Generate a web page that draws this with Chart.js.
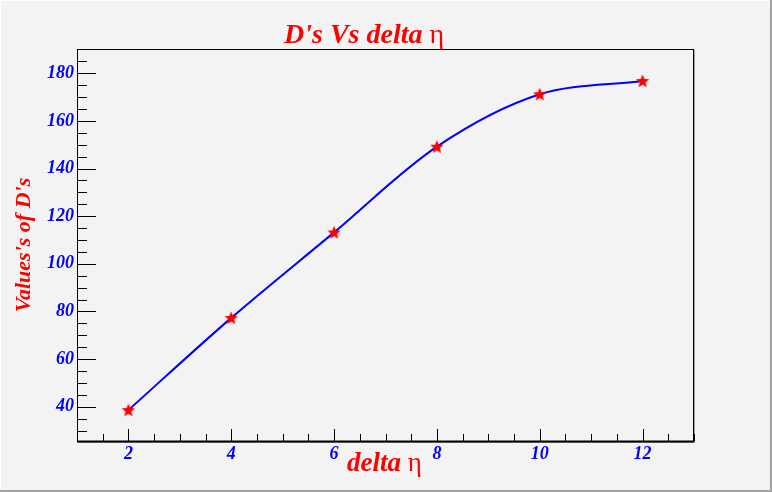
<!DOCTYPE html>
<html>
<head>
<meta charset="utf-8">
<script src="https://cdn.jsdelivr.net/npm/chart.js@4.4.1/dist/chart.umd.min.js"></script>
<style>
  html, body { margin: 0; padding: 0; background: #f3f3f3; }
  #wrap { position: relative; width: 772px; height: 492px; }
</style>
</head>
<body>
<div id="wrap"><canvas id="c" width="772" height="492"></canvas></div>
<script>
// ---- data ----
const deltaEta = [2, 4, 6, 8, 10, 12];
const dValues = [38.6, 77.3, 113.2, 149.2, 171.2, 176.8];
const xTickValues = [2, 4, 6, 8, 10, 12];
const yTickValues = [40, 60, 80, 100, 120, 140, 160, 180];
const xRange = [1, 13];
const yRange = [25.6, 190.2];
const titleMain = "D's Vs delta ";
const titleSym = "\u03b7";
const xTitleMain = "delta ";
const xTitleSym = "\u03b7";
const yTitle = "Values's of D's";

// red filled star marker
function makeStar(size, color) {
  const cv = document.createElement('canvas');
  cv.width = size; cv.height = size;
  const g = cv.getContext('2d');
  const cx = size / 2, cy = size / 2 + 0.5, ro = size / 2, ri = ro * 0.45;
  g.beginPath();
  for (let i = 0; i < 10; i++) {
    const r = i % 2 === 0 ? ro : ri;
    const a = -Math.PI / 2 + i * Math.PI / 5;
    const px = cx + r * Math.cos(a), py = cy + r * Math.sin(a);
    if (i === 0) g.moveTo(px, py); else g.lineTo(px, py);
  }
  g.closePath();
  g.fillStyle = color;
  g.fill();
  return cv;
}
const star = makeStar(14, '#ff0000');

const FRAME = { left: 77, right: 694, top: 49, bottom: 441 };
const W = 772, H = 492;

const bgPlugin = {
  id: 'bg',
  beforeDraw(chart) {
    const ctx = chart.ctx;
    ctx.save();
    ctx.fillStyle = '#f3f3f3';
    ctx.fillRect(0, 0, W, H);
    ctx.fillStyle = '#a0a0a0';
    ctx.fillRect(W - 2, 0, 2, H);
    ctx.fillRect(0, H - 2, W, 2);
    ctx.fillStyle = '#ffffff';
    ctx.fillRect(0, 0, W - 2, 1);
    ctx.fillRect(0, 0, 1, H - 2);
    ctx.restore();
  }
};

const framePlugin = {
  id: 'frame',
  afterDatasetsDraw(chart) {
    const ctx = chart.ctx;
    const xs = chart.scales.x, ys = chart.scales.y;
    const a = chart.chartArea;
    ctx.save();
    ctx.strokeStyle = '#a0a0a0';
    ctx.lineWidth = 1;
    ctx.beginPath();
    ctx.moveTo(a.right + 0.5, a.top + 1);
    ctx.lineTo(a.right + 0.5, a.bottom + 1.5);
    ctx.lineTo(a.left + 1, a.bottom + 1.5);
    ctx.stroke();
    ctx.strokeStyle = '#000000';
    ctx.lineWidth = 1;
    ctx.strokeRect(a.left + 0.5, a.top + 0.5, a.right - a.left - 1, a.bottom - a.top);
    ctx.beginPath();
    ctx.moveTo(a.left, a.bottom + 0.5);
    ctx.lineTo(a.right, a.bottom + 0.5);
    ctx.lineWidth = 2;
    ctx.stroke();
    ctx.lineWidth = 1;
    ctx.beginPath();
    for (let v = 1.5; v <= xRange[1] + 1e-9; v += 0.5) {
      const px = Math.round(xs.getPixelForValue(v)) + 0.5;
      const major = xTickValues.includes(v);
      const len = major ? 12 : 7;
      ctx.moveTo(px, a.bottom);
      ctx.lineTo(px, a.bottom - len);
    }
    for (let v = 30; v <= yRange[1] + 1e-9; v += 5) {
      const py = Math.round(ys.getPixelForValue(v)) + 0.5;
      const major = yTickValues.includes(v);
      const len = major ? 19 : 10;
      ctx.moveTo(a.left, py);
      ctx.lineTo(a.left + len, py);
    }
    ctx.stroke();
    ctx.restore();
  },
  afterDraw(chart) {
    const ctx = chart.ctx;
    ctx.save();
    ctx.fillStyle = '#ff0000';
    ctx.textBaseline = 'alphabetic';
    ctx.textAlign = 'left';
    ctx.font = 'italic bold 28px "Liberation Serif"';
    let x0 = 284;
    ctx.fillText(titleMain, x0, 43);
    let w = ctx.measureText(titleMain).width;
    ctx.font = '28px "Liberation Serif"';
    ctx.fillText(titleSym, x0 + w, 43);
    ctx.font = 'italic bold 27px "Liberation Serif"';
    x0 = 347;
    ctx.fillText(xTitleMain, x0, 471);
    w = ctx.measureText(xTitleMain).width;
    ctx.font = '27px "Liberation Serif"';
    ctx.fillText(xTitleSym, x0 + w, 471);
    ctx.font = 'italic bold 22px "Liberation Serif"';
    ctx.translate(30, 245);
    ctx.rotate(-Math.PI / 2);
    ctx.textAlign = 'center';
    ctx.fillText(yTitle, 0, 0);
    ctx.restore();
  }
};

const tickFont = { family: '"Liberation Serif"', size: 18, style: 'italic', weight: 'bold' };

new Chart(document.getElementById('c'), {
  type: 'line',
  data: {
    datasets: [{
      data: deltaEta.map((x, i) => ({ x: x, y: dValues[i] })),
      borderColor: '#0000ff',
      borderWidth: 2,
      tension: 0.32,
      pointStyle: star,
      pointRadius: 7,
      pointHoverRadius: 7,
      fill: false,
      clip: false
    }]
  },
  options: {
    responsive: false,
    animation: false,
    devicePixelRatio: 1,
    events: [],
    layout: { padding: { left: 0, top: FRAME.top, right: W - FRAME.right, bottom: 0 } },
    plugins: { legend: { display: false }, title: { display: false }, tooltip: { enabled: false } },
    scales: {
      x: {
        type: 'linear',
        min: xRange[0], max: xRange[1],
        afterBuildTicks(s) { s.ticks = xTickValues.map(v => ({ value: v })); },
        afterFit(s) { s.height = H - FRAME.bottom; },
        grid: { display: false, drawTicks: false },
        border: { display: false },
        ticks: { color: '#0000ff', font: tickFont, padding: 3, maxRotation: 0, autoSkip: false }
      },
      y: {
        type: 'linear',
        min: yRange[0], max: yRange[1],
        afterBuildTicks(s) { s.ticks = yTickValues.map(v => ({ value: v })); },
        afterFit(s) { s.width = FRAME.left; },
        grid: { display: false, drawTicks: false },
        border: { display: false },
        ticks: { color: '#0000ff', font: tickFont, padding: 3, autoSkip: false }
      }
    }
  },
  plugins: [bgPlugin, framePlugin]
});
</script>
</body>
</html>
